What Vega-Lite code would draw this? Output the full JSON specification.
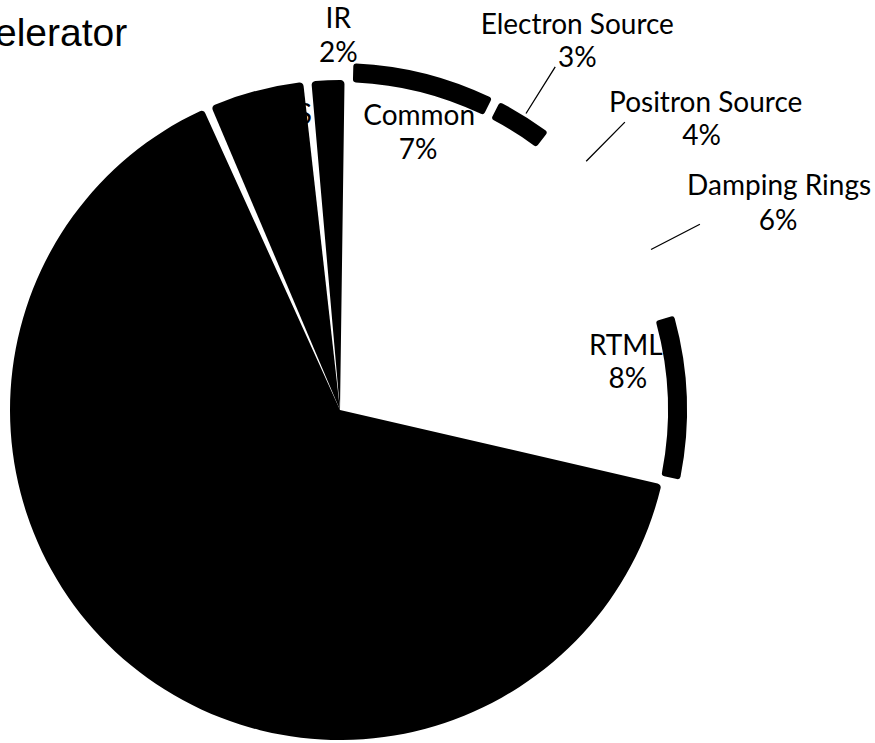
{
  "$schema": "https://vega.github.io/schema/vega-lite/v6.json",
  "autosize": {"type": "none"},
  "padding": {"left": 0, "top": 77, "right": 195, "bottom": 0},
  "width": 680,
  "height": 666,
  "background": "white",
  "config": {
    "view": {"stroke": null},
    "text": {"font": "Lato", "fontSize": 28, "color": "black", "baseline": "middle", "align": "center"}
  },
  "title": {
    "text": "Accelerator",
    "anchor": "start",
    "frame": "group",
    "font": "Liberation Sans",
    "fontSize": 39,
    "fontWeight": "normal",
    "color": "black",
    "baseline": "alphabetic",
    "dx": -70,
    "offset": -174
  },
  "data": {
    "values": [
      {"area": "Common", "share": 0.07, "rank": 1},
      {"area": "Electron Source", "share": 0.03, "rank": 2},
      {"area": "Positron Source", "share": 0.04, "rank": 3},
      {"area": "Damping Rings", "share": 0.06, "rank": 4},
      {"area": "RTML", "share": 0.08, "rank": 5},
      {"area": "Main Linac", "share": 0.65, "rank": 6},
      {"area": "BDS", "share": 0.05, "rank": 7},
      {"area": "IR", "share": 0.02, "rank": 8}
    ]
  },
  "encoding": {
    "theta": {"field": "share", "type": "quantitative", "stack": true, "scale": {"range": [0.0262, 6.3094]}},
    "order": {"field": "rank", "type": "quantitative"},
    "detail": {"field": "area", "type": "nominal"}
  },
  "layer": [
    {
      "mark": {"type": "arc", "radius": 330, "padAngle": 0.025, "cornerRadius": 4},
      "encoding": {
        "color": {
          "field": "area",
          "type": "nominal",
          "legend": null,
          "scale": {
            "domain": ["Common", "Electron Source", "Positron Source", "Damping Rings", "RTML", "Main Linac", "BDS", "IR"],
            "range": ["white", "white", "white", "white", "white", "black", "black", "black"]
          }
        }
      }
    },
    {
      "mark": {"type": "arc", "radius": 347, "radius2": 328, "padAngle": 0.018, "cornerRadius": 3, "color": "black"},
      "encoding": {
        "fillOpacity": {"condition": {"test": "indexof(['Common', 'Electron Source', 'RTML'], datum.area) >= 0", "value": 1}, "value": 0}
      }
    },
    {
      "mark": {"type": "arc", "radius": 405, "radius2": 350, "padAngle": 3, "filled": false, "stroke": "black", "strokeWidth": 1.3},
      "encoding": {
        "strokeOpacity": {"condition": {"test": "indexof(['Electron Source', 'Positron Source', 'Damping Rings'], datum.area) >= 0", "value": 1}, "value": 0}
      }
    },
    {
      "mark": {"type": "text", "radius": 375, "dx": 12, "dy": -15},
      "encoding": {"text": {"condition": {"test": "datum.area === 'IR'", "field": "area"}, "value": ""}}
    },
    {
      "mark": {"type": "text", "radius": 375, "dx": 12, "dy": 19},
      "encoding": {"text": {"condition": {"test": "datum.area === 'IR'", "field": "share", "type": "quantitative", "format": ".0%"}, "value": ""}}
    },
    {
      "mark": {"type": "text", "radius": 439, "dx": 4, "dy": -12},
      "encoding": {"text": {"condition": {"test": "datum.area === 'Electron Source'", "field": "area"}, "value": ""}}
    },
    {
      "mark": {"type": "text", "radius": 439, "dx": 4, "dy": 21},
      "encoding": {"text": {"condition": {"test": "datum.area === 'Electron Source'", "field": "share", "type": "quantitative", "format": ".0%"}, "value": ""}}
    },
    {
      "mark": {"type": "text", "radius": 463, "dx": 40, "dy": 23},
      "encoding": {"text": {"condition": {"test": "datum.area === 'Positron Source'", "field": "area"}, "value": ""}}
    },
    {
      "mark": {"type": "text", "radius": 463, "dx": 36, "dy": 56},
      "encoding": {"text": {"condition": {"test": "datum.area === 'Positron Source'", "field": "share", "type": "quantitative", "format": ".0%"}, "value": ""}}
    },
    {
      "mark": {"type": "text", "radius": 484, "dx": 9, "dy": -1},
      "encoding": {"text": {"condition": {"test": "datum.area === 'Damping Rings'", "field": "area"}, "value": ""}}
    },
    {
      "mark": {"type": "text", "radius": 484, "dx": 8, "dy": 34},
      "encoding": {"text": {"condition": {"test": "datum.area === 'Damping Rings'", "field": "share", "type": "quantitative", "format": ".0%"}, "value": ""}}
    },
    {
      "mark": {"type": "text", "radius": 288, "dx": 9, "dy": -14},
      "encoding": {"text": {"condition": {"test": "datum.area === 'Common'", "field": "area"}, "value": ""}}
    },
    {
      "mark": {"type": "text", "radius": 288, "dx": 8, "dy": 20},
      "encoding": {"text": {"condition": {"test": "datum.area === 'Common'", "field": "share", "type": "quantitative", "format": ".0%"}, "value": ""}}
    },
    {
      "mark": {"type": "text", "radius": 289, "dx": -3, "dy": -52},
      "encoding": {"text": {"condition": {"test": "datum.area === 'RTML'", "field": "area"}, "value": ""}}
    },
    {
      "mark": {"type": "text", "radius": 289, "dx": -1, "dy": -19},
      "encoding": {"text": {"condition": {"test": "datum.area === 'RTML'", "field": "share", "type": "quantitative", "format": ".0%"}, "value": ""}}
    },
    {
      "mark": {"type": "text", "radius": 285, "dx": 17, "dy": -18},
      "encoding": {"text": {"condition": {"test": "datum.area === 'BDS'", "field": "area"}, "value": ""}}
    },
    {
      "mark": {"type": "text", "radius": 285, "dx": 19, "dy": 15},
      "encoding": {"text": {"condition": {"test": "datum.area === 'BDS'", "field": "share", "type": "quantitative", "format": ".0%"}, "value": ""}}
    }
  ]
}
